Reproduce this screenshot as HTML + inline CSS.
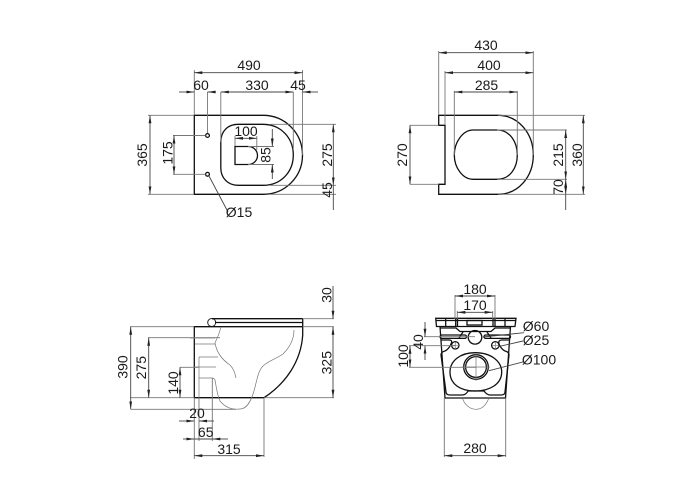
<!DOCTYPE html>
<html>
<head>
<meta charset="utf-8">
<style>
html,body{margin:0;padding:0;background:#fff}
svg{display:block}
text{font-family:"Liberation Sans",sans-serif;font-size:14px;fill:#1a1a1a;text-anchor:middle}
.d{stroke:#444;stroke-width:.9;fill:none}
.e{stroke:#777;stroke-width:.9;fill:none}
.o{stroke:#111;stroke-width:1.3;fill:none}
.t{stroke:#777;stroke-width:.7;fill:none}
.a{marker-start:url(#s);marker-end:url(#m)}
.b{marker-end:url(#m)}
</style>
</head>
<body>
<svg width="700" height="500" viewBox="0 0 700 500" xmlns="http://www.w3.org/2000/svg">
<defs>
<marker id="m" markerUnits="userSpaceOnUse" markerWidth="9" markerHeight="5" refX="8" refY="2" orient="auto"><path d="M0 .6L8 2L0 3.400z" fill="#222"/></marker>
<marker id="s" markerUnits="userSpaceOnUse" markerWidth="9" markerHeight="5" refX="0" refY="2" orient="auto"><path d="M8 .6L0 2L8 3.400z" fill="#222"/></marker>
</defs>

<!-- TOP LEFT -->
<path class="o" d="M194.300 115.300H263C285 115.300 302.500 133 302.500 155C302.500 177 285 194.300 263 194.300H194.300Z"/>
<path class="o" d="M238 124.300H263C281 124.300 293.300 138 293.300 155C293.300 172 281 185.300 263 185.300H238C228 185.300 220.800 178 220.800 168V142C220.800 131 228 124.300 238 124.300Z"/>
<path class="o" d="M235 146.500H248C254 146.500 257.500 151 257.500 155.500C257.500 160 254 164.500 248 164.500H235Z" stroke-width="1"/>
<circle cx="207.500" cy="135.500" r="1.900" class="o" stroke-width=".9"/>
<circle cx="207.500" cy="174.300" r="1.900" class="o" stroke-width=".9"/>
<path class="e" d="M194.300 115V70M302.500 155V70M207.500 133V92M220.800 142V92M293.300 150V92M194 115.300H148M194 194.300H148M270 124.300H336M270 185.300H336M270 194.300H336M235 146V136M256.800 150V136M205.500 135.500H173M205.500 174.300H173M248 146.500H274M248 164.500H274"/>
<path class="d a" d="M194.300 72.700H302.500"/>
<path class="d b" d="M179 92H194.300"/>
<path class="d b" d="M216 92H207.500"/>
<path class="d a" d="M220.800 92H293.300"/>
<path class="d b" d="M318 92H302.500"/>
<path class="d a" d="M150 115.300V194.300"/>
<path class="d a" d="M174 135.500V174.300"/>
<path class="d a" d="M235 138.300H256.800"/>
<path class="d b" d="M272.300 129V146.500"/>
<path class="d b" d="M272.300 179V164.500"/>
<path class="d a" d="M333.300 124.300V185.300"/>
<path class="d" d="M333.300 185.300V210"/>
<path class="d" d="M209 176L228 212"/>
<text x="249" y="70">490</text>
<text x="201" y="90">60</text>
<text x="257" y="90">330</text>
<text x="298" y="90">45</text>
<text x="246" y="136">100</text>
<g transform="translate(147,155) rotate(-90)"><text>365</text></g>
<g transform="translate(172.500,153) rotate(-90)"><text>175</text></g>
<g transform="translate(270.500,155) rotate(-90)"><text>85</text></g>
<g transform="translate(332,155) rotate(-90)"><text>275</text></g>
<g transform="translate(332,190) rotate(-90)"><text>45</text></g>
<text x="239" y="217">Ø15</text>

<!-- TOP RIGHT -->
<path class="o" d="M438.700 115.300H498C518 115.300 533.300 133 533.300 155C533.300 177 518 194.300 498 194.300H438.700V184.300H445V125.300H438.700Z"/>
<path class="e" stroke="#333" d="M410 125.300H438.700M410 184.300H438.700"/>
<path class="o" d="M473 130H497C510 130 517.300 142 517.300 155C517.300 168 510 179.300 497 179.300H473C463 179.300 454.300 168 454.300 155C454.300 142 463 130 473 130Z"/>
<path class="e" d="M438.700 115V51M445 125V71M533.300 155V51M454.300 155V91M517.300 155V91M498 115.300H585M497 130H567M497 179.300H567M498 194.300H585"/>
<path class="d a" d="M438.700 52.700H533.300"/>
<path class="d a" d="M445 72.700H533.300"/>
<path class="d a" d="M454.300 92H517.300"/>
<path class="d a" d="M410 125.300V184.300"/>
<path class="d a" d="M565.700 130V179.300"/>
<path class="d a" d="M583.300 115.300V194.300"/>
<path class="d a" d="M565.700 179.300V194.300"/>
<path class="d" d="M565.700 194.300V210"/>
<text x="486" y="50">430</text>
<text x="489" y="70">400</text>
<text x="486.500" y="90">285</text>
<g transform="translate(407,155) rotate(-90)"><text>270</text></g>
<g transform="translate(563,155) rotate(-90)"><text>215</text></g>
<g transform="translate(582,155) rotate(-90)"><text>360</text></g>
<g transform="translate(563,187) rotate(-90)"><text>70</text></g>

<!-- BOTTOM LEFT -->
<circle cx="211.700" cy="322.500" r="4" fill="#fff" stroke="#222" stroke-width="1"/>
<path class="o" stroke-width="1" d="M212 318.700H302.700"/>
<path class="o" stroke-width="1.700" d="M215 322.500H302.700"/>
<path class="o" stroke-width="1.700" d="M212 326.700H302.700"/>
<path class="o" d="M302.700 318.700V335C301 362 285 384 264 397.700H194.300V326.700H212"/>
<path class="t" d="M220.700 327C220 333 217 338 215 343C217 354 224 361 230 365C234 369 235 374 236 378M294 330C294 339 290 347 283 354C276 359 268 361 263 366C258 371 257 380 254 391C251 401 247 409 240 409C232 410 225 407 220 401C217 395 216 385 215 380C214 378 213 378 212 378H199M199 357V398M199 357H218M190 338H215M195 344H215M194 367H216"/>
<path class="e" d="M194.300 326.700H130M220 337.700H148M194.300 397.700H130M264 397.700V457M194.300 397.700V459M199 398V441M212.300 378V441M264 397.700H334M302.700 326.700H334M302.700 318.700H334M180 367.300H199"/>
<path class="d a" d="M130.700 326.700V409.300"/>
<path class="e" d="M130.700 409.300H236"/>
<path class="d a" d="M148.700 337.700V397.700"/>
<path class="d a" d="M180 367.300V397.700"/>
<path class="d b" d="M179 421H194.300"/>
<path class="d b" d="M214 421H199"/>
<path class="d b" d="M183 439H194.300"/>
<path class="d" d="M194.300 439H212.300"/>
<path class="d b" d="M228 439H212.300"/>
<path class="d a" d="M194.300 455.700H264"/>
<path class="d b" d="M333 286V318.700"/>
<path class="d a" d="M333 326.700V397.700"/>
<text x="197" y="418">20</text>
<text x="205.700" y="437">65</text>
<text x="229" y="454">315</text>
<g transform="translate(127.500,367) rotate(-90)"><text>390</text></g>
<g transform="translate(146,367.700) rotate(-90)"><text>275</text></g>
<g transform="translate(178,383) rotate(-90)"><text>140</text></g>
<g transform="translate(331.700,295) rotate(-90)"><text>30</text></g>
<g transform="translate(331.700,362.700) rotate(-90)"><text>325</text></g>

<!-- BOTTOM RIGHT -->
<path class="o" d="M436.500 326.500L435.700 318.300H516L515 326.500Z" stroke-width="1.100"/>
<path class="o" d="M440 326.500L445 398H505.500L510.500 326.500" stroke-width="1.100"/>
<path class="o" stroke-width=".8" d="M436 320.500H516M445.700 319V326.500M455.700 319V326.500M457.500 319V326.500M493 319V326.500M495 319V326.500M505 319V326.500"/>
<rect x="467" y="320.500" width="15" height="4.500" class="o" stroke-width=".8"/>
<path class="o" stroke-width=".8" d="M440 328H456L460 331.500H491L495 328H511"/>
<path class="o" stroke-width=".9" d="M459 338L463 332M491 338L487 332"/>
<rect x="440" y="335" width="26.500" height="3.400" rx="1.700" class="o" stroke-width=".9"/>
<rect x="484" y="335" width="26.500" height="3.400" rx="1.700" class="o" stroke-width=".9"/>
<circle cx="475" cy="337.300" r="6.800" class="o" stroke-width=".9"/>
<circle cx="455.300" cy="345.300" r="3.700" class="o" stroke-width=".9"/>
<circle cx="495.300" cy="345.300" r="3.700" class="o" stroke-width=".9"/>
<path class="t" d="M452 345.300H459M455.300 342V349M492 345.300H499M495.300 342V349"/>
<path class="o" stroke-width=".9" d="M441 340H449Q453 340 451 344Q449 349 445 351Q441 352 441 355L446 392Q446 395 450 395H462Q466 395 468 391H484Q487 395 490 395H501Q505 395 505 392L509 355Q509 352 505 351Q501 349 499 344Q498 340 502 340H510"/>
<path class="o" stroke-width=".9" d="M475 352.700C492 352.700 501.700 362 501.700 372C501.700 384 490 391 475 391C460 391 450 384 450 372C450 361 460 352.700 475 352.700Z"/>
<circle cx="476" cy="367" r="12.300" class="o" stroke-width="1.400"/>
<circle cx="476" cy="367" r="10.400" class="o" stroke-width=".9"/>
<path class="t" d="M462 367H490M476 353V381M462.700 399C465 405 470 409.300 476 409.300C482 409.300 486 405 488.500 399"/>
<path class="e" d="M455 319V295M495 319V295M457.300 319V311M492.700 319V311M455.300 345.700H409M475 336.700H424M476 367.300H409M444.300 398V457M505.700 398V457"/>
<path class="d a" d="M455 296H495"/>
<path class="d a" d="M457.300 312.300H492.700"/>
<path class="d b" d="M425 322V336.700"/>
<path class="d b" d="M425 360V345.700"/>
<path class="d a" d="M410 345.700V367.300"/>
<path class="d a" d="M444.300 455.700H505.700"/>
<path class="d" d="M483 337L524 332.700M498 346.700L523 341M489 370.700L524 361.700"/>
<text x="475" y="294">180</text>
<text x="475" y="310">170</text>
<text x="475" y="453">280</text>
<g transform="translate(423,342) rotate(-90)"><text>40</text></g>
<g transform="translate(408,356) rotate(-90)"><text>100</text></g>
<text x="536" y="331">Ø60</text>
<text x="536" y="345">Ø25</text>
<text x="539" y="364.500">Ø100</text>
</svg>
</body>
</html>
